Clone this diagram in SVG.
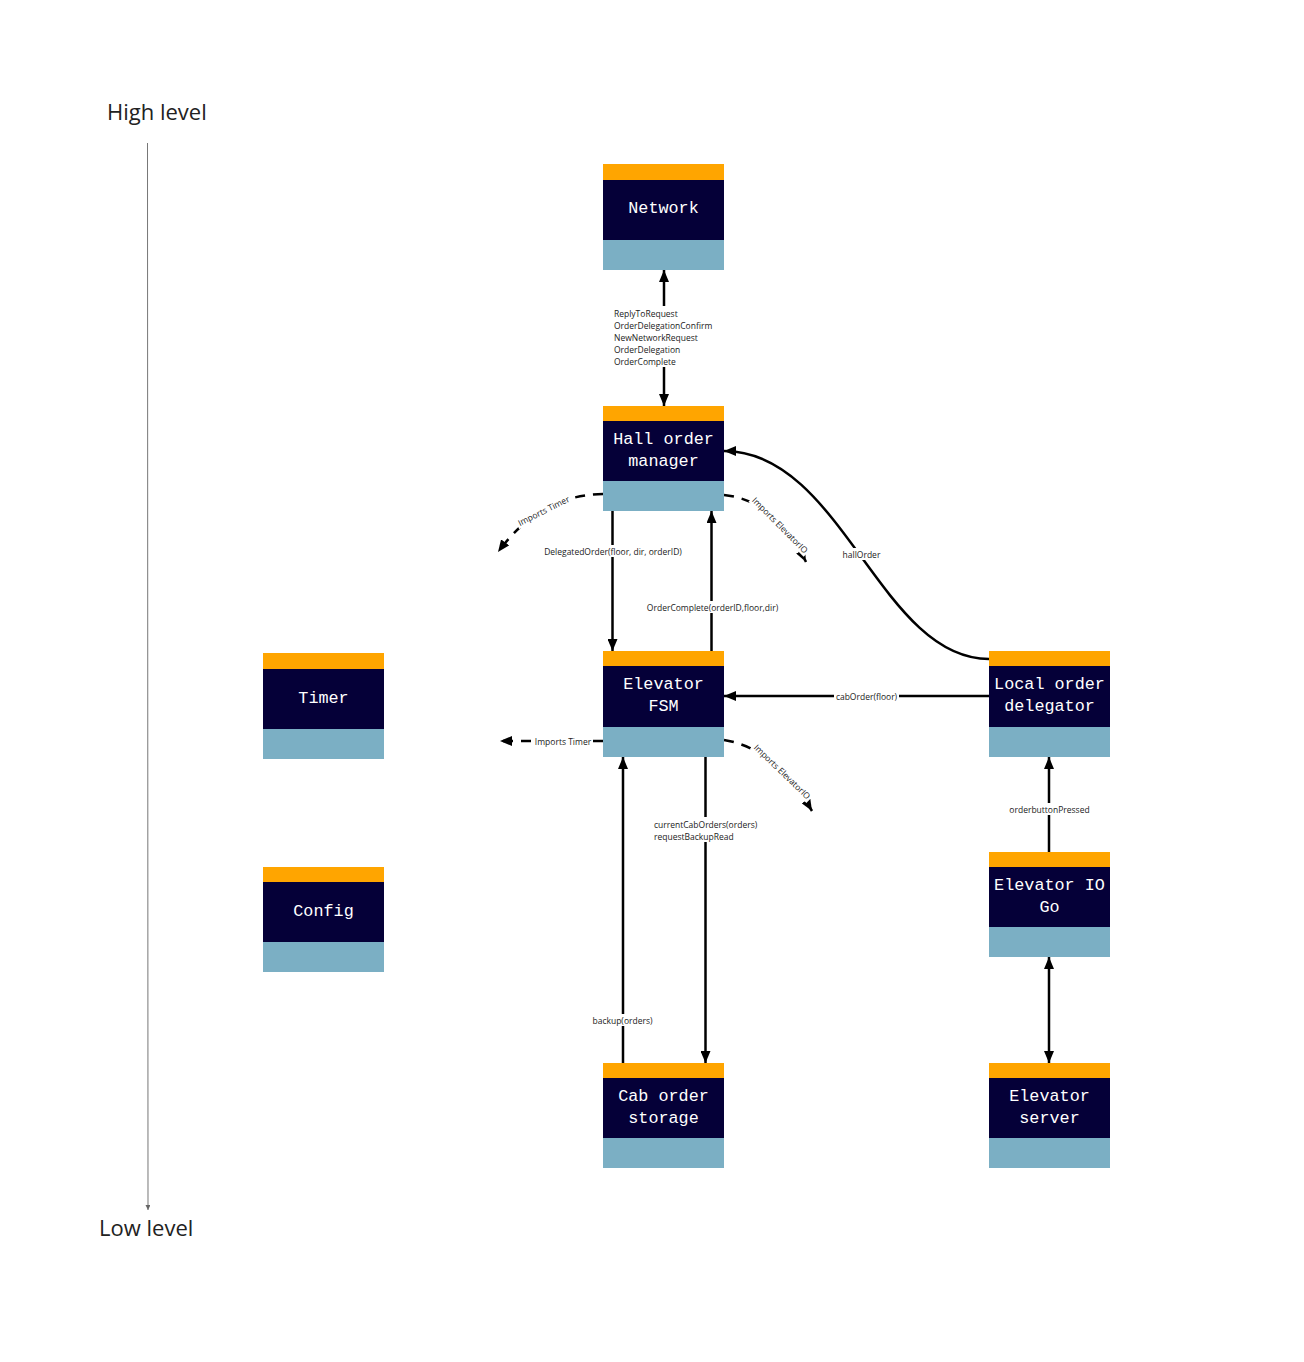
<svg xmlns="http://www.w3.org/2000/svg" width="1304" height="1362" viewBox="0 0 1304 1362">
<style>
.bg{fill:#ffffff}
.top{fill:#FFA500}
.mid{fill:#050038}
.bot{fill:#7BAFC4}
.nt{font-family:"Liberation Mono","DejaVu Sans Mono",monospace;font-size:16.8px;fill:#ffffff;text-anchor:middle;dominant-baseline:central}
.ln{fill:none;stroke:#000;stroke-width:2.5}
.dash{fill:none;stroke:#000;stroke-width:2.5;stroke-dasharray:10 8}
.lbg{fill:#ffffff}
.lbl{font-family:"Open Sans","Noto Sans","Liberation Sans",sans-serif;font-size:8.5px;fill:#222;dominant-baseline:central}
.c{text-anchor:middle}
.axl{font-family:"Open Sans","Noto Sans","Liberation Sans",sans-serif;font-size:22px;fill:#222}
</style>
<defs>
<marker id="ah" viewBox="0 0 12 10" refX="12" refY="5" markerWidth="12" markerHeight="10" markerUnits="userSpaceOnUse" orient="auto-start-reverse">
<path d="M0,0 L12,5 L0,10 z" fill="#000"/>
</marker>
<marker id="ax" viewBox="0 0 6 6" refX="6" refY="3" markerWidth="5" markerHeight="5" markerUnits="userSpaceOnUse" orient="auto">
<path d="M0,0 L6,3 L0,6 z" fill="#666"/>
</marker>
</defs>
<rect class="bg" x="0" y="0" width="1304" height="1362"/>

<g id="axis">
<text class="axl" x="107" y="120">High level</text>
<line x1="147.5" y1="143" x2="148" y2="1210" stroke="#777" stroke-width="1" marker-end="url(#ax)"/>
<text class="axl" x="99" y="1236">Low level</text>
</g>

<g id="connectors">
<!-- Network <-> Hall order manager -->
<line class="ln" x1="664" y1="270" x2="664" y2="406" marker-start="url(#ah)" marker-end="url(#ah)"/>
<rect class="lbg" x="612" y="306" width="102" height="61"/>
<text class="lbl" x="614" y="313">ReplyToRequest</text>
<text class="lbl" x="614" y="325">OrderDelegationConfirm</text>
<text class="lbl" x="614" y="337">NewNetworkRequest</text>
<text class="lbl" x="614" y="349">OrderDelegation</text>
<text class="lbl" x="614" y="361">OrderComplete</text>

<!-- DelegatedOrder -->
<line class="ln" x1="612.5" y1="511" x2="612.5" y2="651" marker-end="url(#ah)"/>
<rect class="lbg" x="543" y="545" width="140" height="12"/>
<text class="lbl c" x="613" y="551">DelegatedOrder(floor, dir, orderID)</text>

<!-- OrderComplete -->
<line class="ln" x1="711.5" y1="651" x2="711.5" y2="511" marker-end="url(#ah)"/>
<rect class="lbg" x="645" y="601" width="135" height="12"/>
<text class="lbl c" x="712.5" y="607">OrderComplete(orderID,floor,dir)</text>

<!-- hallOrder -->
<path class="ln" d="M989,659 C880,659 842,451 724,451" marker-end="url(#ah)"/>
<rect class="lbg" x="841" y="548" width="41" height="12"/>
<text class="lbl c" x="861.5" y="554">hallOrder</text>

<!-- cabOrder -->
<line class="ln" x1="989" y1="696" x2="724" y2="696" marker-end="url(#ah)"/>
<rect class="lbg" x="834" y="690" width="65" height="12"/>
<text class="lbl c" x="866.5" y="696">cabOrder(floor)</text>

<!-- Hall imports Timer -->
<path class="dash" d="M603,494 Q540,495 498,552" marker-end="url(#ah)"/>
<g transform="translate(543.5,510.5) rotate(-26.5)">
<rect class="lbg" x="-30" y="-6" width="60" height="12"/>
<text class="lbl c" x="0" y="0">Imports Timer</text>
</g>

<!-- Hall imports ElevatorIO -->
<path class="dash" d="M724,495 Q775,500 806,562" marker-end="url(#ah)"/>
<g transform="translate(780.3,525) rotate(45)">
<rect class="lbg" x="-39" y="-6" width="78" height="12"/>
<text class="lbl c" x="0" y="0">Imports ElevatorIO</text>
</g>

<!-- FSM imports Timer -->
<line class="dash" x1="603" y1="741" x2="500" y2="741" marker-end="url(#ah)"/>
<rect class="lbg" x="533" y="735" width="60" height="12"/>
<text class="lbl c" x="563" y="741">Imports Timer</text>

<!-- FSM imports ElevatorIO -->
<path class="dash" d="M724,740 Q775,748 812,811" marker-end="url(#ah)"/>
<g transform="translate(782.5,771.5) rotate(44)">
<rect class="lbg" x="-39" y="-6" width="78" height="12"/>
<text class="lbl c" x="0" y="0">Imports ElevatorIO</text>
</g>

<!-- currentCabOrders -->
<line class="ln" x1="705.5" y1="757" x2="705.5" y2="1063" marker-end="url(#ah)"/>
<rect class="lbg" x="652" y="817" width="107" height="25"/>
<text class="lbl" x="654" y="824">currentCabOrders(orders)</text>
<text class="lbl" x="654" y="836">requestBackupRead</text>

<!-- backup -->
<line class="ln" x1="623" y1="1063" x2="623" y2="757" marker-end="url(#ah)"/>
<rect class="lbg" x="591" y="1014" width="63" height="12"/>
<text class="lbl c" x="622.5" y="1020">backup(orders)</text>

<!-- orderbuttonPressed -->
<line class="ln" x1="1049" y1="852" x2="1049" y2="757" marker-end="url(#ah)"/>
<rect class="lbg" x="1008" y="803" width="83" height="12"/>
<text class="lbl c" x="1049.5" y="809">orderbuttonPressed</text>

<!-- Elevator IO <-> Elevator server -->
<line class="ln" x1="1049" y1="957" x2="1049" y2="1063" marker-start="url(#ah)" marker-end="url(#ah)"/>
</g>

<g id="network">
<rect class="top" x="603" y="164" width="121" height="16"/>
<rect class="mid" x="603" y="180" width="121" height="60"/>
<rect class="bot" x="603" y="240" width="121" height="30"/>
<text class="nt" x="663.5" y="208">Network</text>
</g>

<g id="hall-order-manager">
<rect class="top" x="603" y="406" width="121" height="15"/>
<rect class="mid" x="603" y="421" width="121" height="60"/>
<rect class="bot" x="603" y="481" width="121" height="30"/>
<text class="nt" x="663.5" y="439">Hall order</text>
<text class="nt" x="663.5" y="461">manager</text>
</g>

<g id="elevator-fsm">
<rect class="top" x="603" y="651" width="121" height="15"/>
<rect class="mid" x="603" y="666" width="121" height="61"/>
<rect class="bot" x="603" y="727" width="121" height="30"/>
<text class="nt" x="663.5" y="684">Elevator</text>
<text class="nt" x="663.5" y="706">FSM</text>
</g>

<g id="timer">
<rect class="top" x="263" y="653" width="121" height="16"/>
<rect class="mid" x="263" y="669" width="121" height="60"/>
<rect class="bot" x="263" y="729" width="121" height="30"/>
<text class="nt" x="323.5" y="698">Timer</text>
</g>

<g id="config">
<rect class="top" x="263" y="867" width="121" height="15"/>
<rect class="mid" x="263" y="882" width="121" height="60"/>
<rect class="bot" x="263" y="942" width="121" height="30"/>
<text class="nt" x="323.5" y="911">Config</text>
</g>

<g id="local-order-delegator">
<rect class="top" x="989" y="651" width="121" height="15"/>
<rect class="mid" x="989" y="666" width="121" height="61"/>
<rect class="bot" x="989" y="727" width="121" height="30"/>
<text class="nt" x="1049.5" y="684">Local order</text>
<text class="nt" x="1049.5" y="706">delegator</text>
</g>

<g id="elevator-io-go">
<rect class="top" x="989" y="852" width="121" height="15"/>
<rect class="mid" x="989" y="867" width="121" height="60"/>
<rect class="bot" x="989" y="927" width="121" height="30"/>
<text class="nt" x="1049.5" y="885">Elevator IO</text>
<text class="nt" x="1049.5" y="907">Go</text>
</g>

<g id="cab-order-storage">
<rect class="top" x="603" y="1063" width="121" height="15"/>
<rect class="mid" x="603" y="1078" width="121" height="60"/>
<rect class="bot" x="603" y="1138" width="121" height="30"/>
<text class="nt" x="663.5" y="1096">Cab order</text>
<text class="nt" x="663.5" y="1118">storage</text>
</g>

<g id="elevator-server">
<rect class="top" x="989" y="1063" width="121" height="15"/>
<rect class="mid" x="989" y="1078" width="121" height="60"/>
<rect class="bot" x="989" y="1138" width="121" height="30"/>
<text class="nt" x="1049.5" y="1096">Elevator</text>
<text class="nt" x="1049.5" y="1118">server</text>
</g>
</svg>
